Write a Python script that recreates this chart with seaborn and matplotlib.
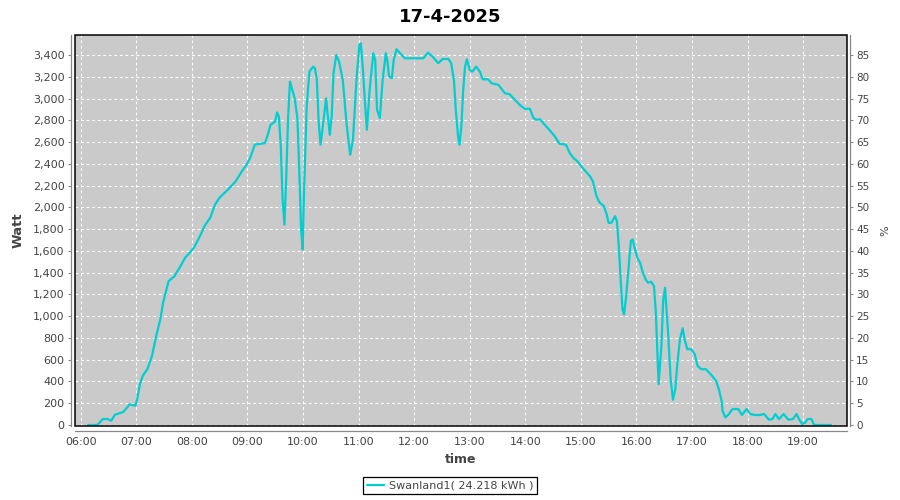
import matplotlib
matplotlib.use("Agg")
import numpy as np
import pandas as pd
import matplotlib.pyplot as plt
from matplotlib.patches import Rectangle
from matplotlib.ticker import FuncFormatter
import seaborn as sns

# Chart data
title = "17-4-2025"
series_name = "Swanland1( 24.218 kWh )"

times = [
    "06:08", "06:18", "06:24", "06:29", "06:33", "06:37", "06:46", "06:53", "06:59", "07:01",
    "07:04", "07:07", "07:12", "07:17", "07:22", "07:26", "07:29", "07:35", "07:41", "07:47",
    "07:53", "07:58", "08:03", "08:09", "08:14", "08:20", "08:25", "08:30", "08:39", "08:47",
    "08:54", "08:59", "09:03", "09:08", "09:19", "09:22", "09:25", "09:30", "09:32", "09:34",
    "09:36", "09:38", "09:40", "09:42", "09:44", "09:46", "09:49", "09:51", "09:54", "09:56",
    "09:58", "09:59:40", "10:01", "10:04", "10:07", "10:11", "10:13", "10:15", "10:17", "10:19",
    "10:21", "10:25", "10:26:30", "10:29", "10:31", "10:33", "10:36", "10:39", "10:43", "10:47",
    "10:51", "10:54", "10:58", "11:01", "11:02:30", "11:05", "11:07", "11:09", "11:12", "11:16",
    "11:18", "11:20", "11:23", "11:26", "11:29:30", "11:31", "11:33", "11:36", "11:38", "11:41",
    "11:45", "11:50", "12:10", "12:15", "12:20", "12:26", "12:31", "12:37", "12:40", "12:43",
    "12:45", "12:47:30", "12:49", "12:51", "12:53", "12:55", "12:57", "13:00", "13:03", "13:07",
    "13:11", "13:14", "13:20", "13:23:30", "13:31", "13:32:30", "13:38", "13:43", "13:49", "13:54",
    "13:59:30", "14:05", "14:09", "14:12", "14:16", "14:21", "14:26", "14:32", "14:37", "14:44",
    "14:48", "14:52", "14:57", "15:02", "15:10", "15:13", "15:17", "15:20", "15:25", "15:28",
    "15:30", "15:33", "15:37", "15:39", "15:41", "15:43", "15:45", "15:46:40", "15:49", "15:52",
    "15:54", "15:56", "15:58", "16:01", "16:04", "16:07", "16:10", "16:12:30", "16:16", "16:19",
    "16:21", "16:23", "16:24", "16:27", "16:29", "16:31", "16:32", "16:34", "16:37", "16:39:30",
    "16:42", "16:44", "16:47", "16:50", "16:52", "16:55", "16:59", "17:03", "17:06", "17:10",
    "17:15", "17:21", "17:26", "17:29", "17:32", "17:33", "17:36", "17:39", "17:44", "17:50",
    "17:54", "17:59", "18:03", "18:08", "18:13", "18:18", "18:23", "18:27", "18:30", "18:34",
    "18:39", "18:44", "18:49", "18:53", "18:56", "18:59", "19:02", "19:05", "19:09", "19:12",
    "19:30",
]
watts = [
    0, 0, 55, 55, 40, 95, 120, 190, 177, 238,
    375, 452, 513, 635, 834, 972, 1125, 1323, 1365, 1448,
    1540, 1585, 1640, 1740, 1833, 1906, 2025, 2090, 2163, 2236,
    2330, 2390, 2454, 2576, 2591, 2667, 2759, 2789, 2872, 2835,
    2576, 2071, 1842, 2285, 2835, 3156, 3064, 3003, 2820, 2346,
    1796, 1613, 2102, 2927, 3248, 3293, 3278, 3171, 2775, 2576,
    2713, 3003, 2866, 2667, 2835, 3233, 3400, 3339, 3171, 2775,
    2484, 2621, 3202, 3492, 3508, 3233, 2958, 2713, 3080, 3416,
    3355, 2897, 2820, 3171, 3416, 3355, 3202, 3187, 3355, 3453,
    3416, 3370, 3370, 3422, 3385, 3325, 3364, 3364, 3325, 3171,
    2897, 2652, 2576, 2743, 3080, 3293, 3361, 3263, 3248, 3293,
    3248, 3177, 3177, 3141, 3126, 3110, 3049, 3040, 2988, 2942,
    2906, 2906, 2820, 2805, 2810, 2759, 2713, 2652, 2585, 2576,
    2500, 2454, 2417, 2362, 2285, 2239, 2102, 2047, 2010, 1934,
    1858, 1858, 1919, 1873, 1644, 1338, 1063, 1017, 1185, 1491,
    1690, 1705, 1629, 1537, 1491, 1400, 1338, 1308, 1317, 1277,
    1033, 605, 376, 727, 1155, 1262, 1125, 880, 422, 232,
    330, 544, 788, 889, 788, 697, 697, 651, 544, 513,
    513, 460, 406, 330, 223, 131, 70, 92, 147, 147,
    92, 147, 101, 92, 92, 101, 49, 55, 101, 55,
    101, 49, 55, 101, 49, 9, 20, 55, 55, 0,
    0,
]

hour_ticks = list(range(6, 20))
hour_labels = [f"{h:02d}:00" for h in hour_ticks]
watt_ticks = list(range(0, 3600, 200))
pct_ticks = list(range(0, 90, 5))


def to_hours(t):
    parts = [int(p) for p in t.split(":")]
    while len(parts) < 3:
        parts.append(0)
    return parts[0] + parts[1] / 60 + parts[2] / 3600


def main():
    df = pd.DataFrame({"hour": [to_hours(t) for t in times], "watt": watts})

    sns.set_style("white")
    plt.rcParams["font.family"] = ["DejaVu Sans"]

    fig = plt.figure(figsize=(9, 5), dpi=100)
    ax = fig.add_axes([75 / 900, 74 / 500, 772 / 900, 391 / 500])
    ax.set_facecolor("#CACACA")

    sns.lineplot(data=df, x="hour", y="watt", ax=ax, color="#00CED1",
                 linewidth=1.6, label=series_name, sort=True)

    ax.set_xlim(5.898, 19.79)
    ax.set_ylim(-9, 3584)
    ax.set_xticks(hour_ticks)
    ax.set_xticklabels(hour_labels)
    ax.set_yticks(watt_ticks)
    ax.yaxis.set_major_formatter(FuncFormatter(lambda v, p: f"{v:,.0f}"))

    ax.set_axisbelow(True)
    ax.grid(True, color="white", linestyle=(0, (2.5, 2.5)), linewidth=0.8)

    for s in ["top", "right"]:
        ax.spines[s].set_visible(False)
    ax.spines["left"].set_position(("outward", 3))
    ax.spines["bottom"].set_position(("outward", 3.6))
    for s in ["left", "bottom"]:
        ax.spines[s].set_color("#888888")
        ax.spines[s].set_linewidth(0.9)

    ax.tick_params(direction="out", length=2.5, width=0.8, color="#888888",
                   labelcolor="#444444", labelsize=8, pad=2)

    ax.set_xlabel("time", fontsize=9, fontweight="bold", color="#444444", labelpad=4)
    ax.set_ylabel("Watt", fontsize=9.5, fontweight="bold", color="#444444", labelpad=6)

    # right hand axis in percent (100 % = 4000 W)
    ax2 = ax.twinx()
    lo, hi = ax.get_ylim()
    ax2.set_ylim(lo / 40, hi / 40)
    ax2.set_yticks(pct_ticks)
    for s in ["top", "left", "bottom"]:
        ax2.spines[s].set_visible(False)
    ax2.spines["right"].set_position(("outward", 2.2))
    ax2.spines["right"].set_color("#888888")
    ax2.spines["right"].set_linewidth(0.9)
    ax2.tick_params(direction="out", length=2.5, width=0.8, color="#888888",
                    labelcolor="#444444", labelsize=7.5, pad=2)
    ax2.set_ylabel("%", fontsize=8, color="#444444", labelpad=8)

    ax2.add_patch(Rectangle((0, 0), 1, 1, transform=ax2.transAxes, fill=False,
                            edgecolor="black", linewidth=1.1, zorder=10, clip_on=False))

    fig.suptitle(title, x=0.5, y=0.985, fontsize=13, fontweight="bold", color="black")

    handles, labels = ax.get_legend_handles_labels()
    ax.get_legend().remove()
    leg = fig.legend(handles, labels, loc="lower center", bbox_to_anchor=(0.5, 0.0),
                     fontsize=8, frameon=True, fancybox=False, handlelength=1.6,
                     borderpad=0.35, handletextpad=0.4)
    leg.get_frame().set_edgecolor("black")
    leg.get_frame().set_linewidth(0.9)
    leg.get_frame().set_alpha(1)
    for t in leg.get_texts():
        t.set_color("#444444")

    fig.savefig("out.png", dpi=100)
    plt.close(fig)


if __name__ == "__main__":
    main()
